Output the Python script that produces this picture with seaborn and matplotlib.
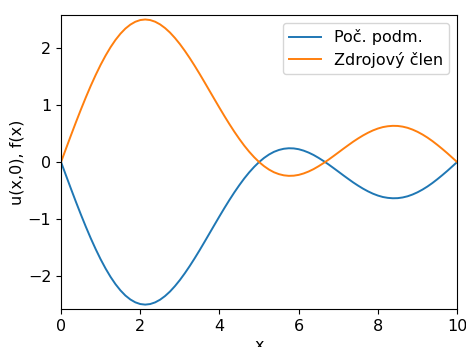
import matplotlib
matplotlib.use("Agg")
import matplotlib.pyplot as plt
import seaborn as sns
import pandas as pd

x_vals = [i * 0.125 for i in range(81)]

zdroj = [0.0, 0.235, 0.468, 0.697, 0.919, 1.133, 1.337, 1.528, 1.706, 1.868,
         2.014, 2.142, 2.251, 2.341, 2.410, 2.460, 2.490, 2.500, 2.490, 2.461,
         2.414, 2.350, 2.271, 2.176, 2.069, 1.950, 1.822, 1.686, 1.544, 1.397,
         1.248, 1.099, 0.951, 0.806, 0.666, 0.532, 0.406, 0.288, 0.181, 0.085,
         0.0, -0.072, -0.132, -0.179, -0.212, -0.233, -0.242, -0.239, -0.225, -0.200,
         -0.166, -0.124, -0.074, -0.019, 0.040, 0.103, 0.167, 0.232, 0.295, 0.357,
         0.414, 0.467, 0.514, 0.555, 0.588, 0.613, 0.628, 0.635, 0.633, 0.621,
         0.600, 0.569, 0.530, 0.483, 0.429, 0.368, 0.301, 0.230, 0.156, 0.078, 0.0]

poc = [-v for v in zdroj]

labels = ["Poč. podm.", "Zdrojový člen"]

df = pd.DataFrame({
    "x": x_vals * 2,
    "y": poc + zdroj,
    "serie": [labels[0]] * len(x_vals) + [labels[1]] * len(x_vals),
})

plt.rcParams["font.size"] = 11.5
fig, ax = plt.subplots(figsize=(4.66, 3.47), dpi=100)
fig.subplots_adjust(left=0.131, right=0.981, top=0.957, bottom=0.109)

sns.lineplot(data=df, x="x", y="y", hue="serie", palette=["#1f77b4", "#ff7f0e"],
             ax=ax, linewidth=1.4)

ax.set_xlim(0, 10)
ax.set_ylim(-2.58, 2.58)
ax.set_xticks([0, 2, 4, 6, 8, 10])
ax.set_yticks([-2, -1, 0, 1, 2])
ax.set_xlabel("x", labelpad=3)
ax.set_ylabel("u(x,0), f(x)", labelpad=2)
ax.legend(loc="upper right", title=None, labelspacing=0.4)

fig.savefig("out.png", dpi=100)
